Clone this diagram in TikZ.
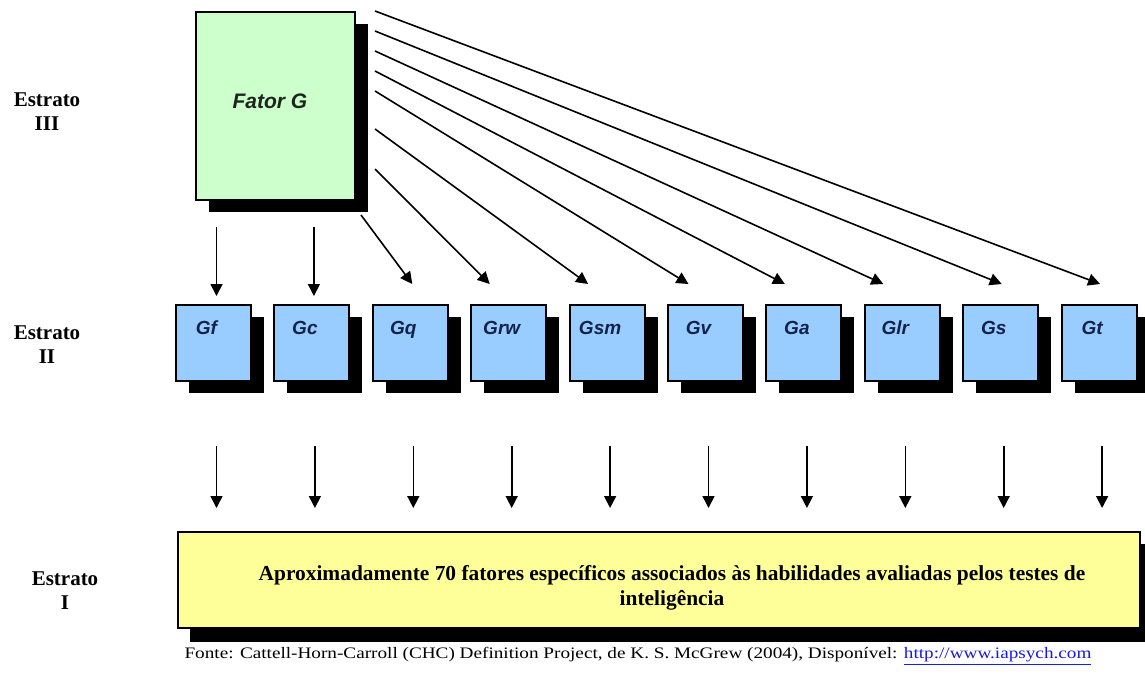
\documentclass[tikz,border=0pt]{standalone}
\usepackage{fontspec}
\setmainfont{Liberation Serif}
\setsansfont{Liberation Sans}
\usetikzlibrary{arrows.meta,calc,shadows}
\definecolor{gfill}{HTML}{CCFFCC}
\definecolor{bfill}{HTML}{99CCFF}
\definecolor{yfill}{HTML}{FFFF99}
\definecolor{navy}{HTML}{13224A}
\definecolor{gtext}{HTML}{1C241C}
\definecolor{linkblue}{HTML}{1A1AE6}
\begin{document}
\begin{tikzpicture}[x=1pt,y=-1pt,
  shadowed/.style={draw=black, line width=2pt,
    drop shadow={shadow xshift=13pt, shadow yshift=-12pt, fill=black, opacity=1}},
  gbox/.style={shadowed, fill=gfill, minimum width=159pt, minimum height=188pt, inner sep=0pt},
  bbox/.style={shadowed, fill=bfill, minimum width=75pt, minimum height=76pt, inner sep=0pt},
  ybox/.style={shadowed, fill=yfill, minimum width=962pt, minimum height=96pt, inner sep=0pt},
  lbl/.style={font=\sffamily\bfseries\itshape\fontsize{19}{22}\selectfont, text=navy, inner sep=0pt},
  estr/.style={font=\bfseries\fontsize{21}{24}\selectfont, align=center, inner sep=0pt},
  arr/.style={line width=1.6pt, -{Triangle[length=12pt,width=12pt]}}
]
\fill[white] (0,0) rectangle (1145,675);
\useasboundingbox (0,0) rectangle (1145,675);

% Stratum labels
\node[estr] (e3) at (47,112) {Estrato\\III};
\node[estr] (e2) at (47,345) {Estrato\\II};
\node[estr] (e1) at (65,591) {Estrato\\I};

% Fator G
\node[gbox] (G) at (275.5,106) {};
\node[font=\sffamily\bfseries\itshape\fontsize{21}{24}\selectfont, text=gtext, anchor=base, inner sep=0pt] (Gt-txt) at (270,108) {Fator G};

% Stratum II boxes
\foreach \n [count=\i from 0] in {Gf,Gc,Gq,Grw,Gsm,Gv,Ga,Glr,Gs,Gt}
  \node[bbox] (\n) at ({213.5+98.4*\i},343) {};
\foreach \n in {Gf,Gc,Gq,Grw,Gsm,Gv,Ga,Glr,Gs,Gt}
  \node[lbl, anchor=base] (\n-l) at ($(\n.north)+(-7,30)$) {\n};

% Stratum I box
\node[ybox, drop shadow={shadow xshift=12pt, shadow yshift=-14pt, fill=black, opacity=1}] (Y) at (659,580) {};
\node[font=\bfseries\fontsize{21.4}{25}\selectfont, align=center, inner sep=0pt] (Ytxt) at (672,588)
  {Aproximadamente 70 fatores específicos associados às habilidades avaliadas pelos testes de\\inteligência};

% Arrows from G
\draw[arr] ($(Gf.north)+(3,-77)$) -- ($(Gf.north)+(3,-8)$);
\draw[arr] ($(Gc.north)+(2,-77)$) -- ($(Gc.north)+(2,-8)$);
\draw[arr] ($(G.south east)+(5,14)$) -- ($(Gq.north)+(2,-20)$);
\draw[arr] ($(G.north east)+(19,158)$) -- ($(Grw.north)+(-19,-20)$);
\draw[arr] ($(G.north east)+(19,118)$) -- ($(Gsm.north)+(-19,-20)$);
\draw[arr] ($(G.north east)+(19,80)$) -- ($(Gv.north)+(-17,-20)$);
\draw[arr] ($(G.north east)+(19,60)$) -- ($(Ga.north)+(-19,-20)$);
\draw[arr] ($(G.north east)+(19,40)$) -- ($(Glr.north)+(-19,-20)$);
\draw[arr] ($(G.north east)+(19,20)$) -- ($(Gs.north)+(1,-20)$);
\draw[arr] ($(G.north east)+(19,0)$) -- ($(Gt.north)+(1,-20)$);

% Arrows to stratum I
\foreach \n in {Gf,Gc,Gq,Grw,Gsm,Gv,Ga,Glr,Gs,Gt}
  \draw[arr] ($(\n.south)+(3,64)$) -- ($(\n.south)+(3,126)$);

% Source
\node[inner sep=0pt] (src) at (638,656)
  {\scalebox{1.2}[1]{\fontsize{16}{18}\selectfont Fonte: Cattell-Horn-Carroll (CHC) Definition Project, de K. S. McGrew (2004), Disponível: \textcolor{linkblue}{\underline{http://www.iapsych.com}}}};
\end{tikzpicture}
\end{document}
